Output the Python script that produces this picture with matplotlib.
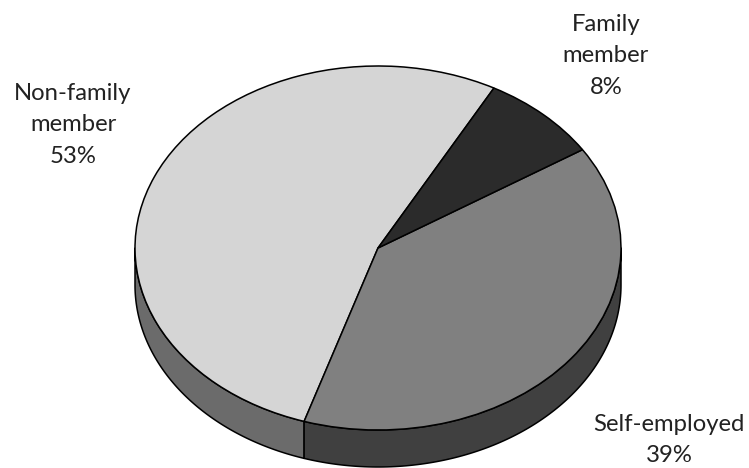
import numpy as np
import matplotlib
matplotlib.use("Agg")
import matplotlib.pyplot as plt

labels = ["Non-family\nmember", "Self-employed", "Family\nmember"]
values = [53, 39, 8]
top_colors = ["#d5d5d5", "#808080", "#2b2b2b"]
side_colors = ["#6b6b6b", "#404040", "#161616"]

plt.rcParams['font.family'] = ['Lato', 'DejaVu Sans']

W, H = 749, 468
cx, cy = 378, 248   # pie centre in pixels
rx, ry = 243, 182   # ellipse radii in pixels
depth = 37 / ry
start = 61.5

fig = plt.figure(figsize=(W / 100, H / 100), dpi=100)
ax = fig.add_axes([0, 0, 1, 1])

# side wall first, only the front half of the ellipse shows
a0 = start
for v, c in zip(values, side_colors):
    a1 = a0 + v / sum(values) * 360
    for k in (0, 360):
        lo = max(a0 - k, 180)
        hi = min(a1 - k, 360)
        if hi <= lo:
            continue
        t = np.radians(np.linspace(lo, hi, 120))
        xs = np.r_[np.cos(t), np.cos(t[::-1])]
        ys = np.r_[np.sin(t), np.sin(t[::-1]) - depth]
        ax.fill(xs, ys, facecolor=c, edgecolor="black", lw=1.1, joinstyle="round")
    a0 = a1

ax.pie(values, colors=top_colors, startangle=start, counterclock=True,
       radius=1, center=(0, 0),
       wedgeprops=dict(edgecolor="black", linewidth=1.1))

ax.set_aspect("auto")
ax.set_xlim(-cx / rx, (W - cx) / rx)
ax.set_ylim(-(H - cy) / ry, cy / ry)
ax.axis("off")

label_pos = [(73, 125), (669, 440), (606, 56)]
for lab, v, (px, py) in zip(labels, values, label_pos):
    ax.text((px - cx) / rx, (cy - py) / ry, "%s\n%d%%" % (lab, v),
            ha="center", va="center", fontsize=17.2, color="#222222",
            linespacing=1.6)

fig.savefig("out.png", dpi=100)
